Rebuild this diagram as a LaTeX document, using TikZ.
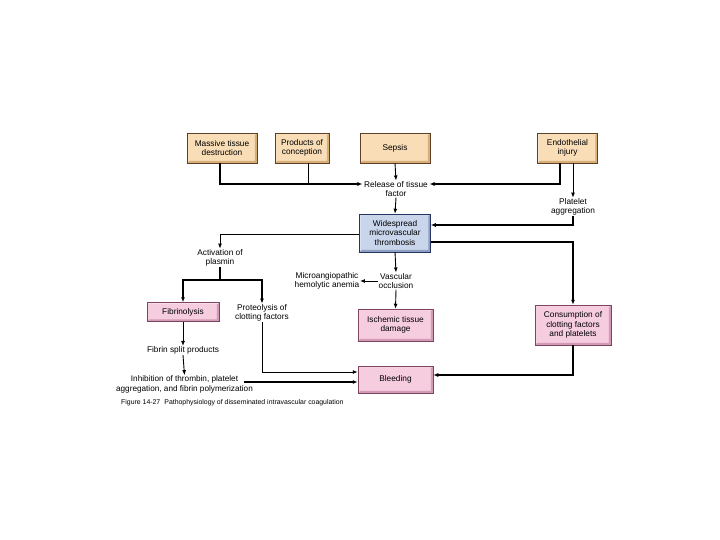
\documentclass[tikz,border=0pt]{standalone}
\usepackage{fontspec}
\setmainfont{Liberation Sans}
\usetikzlibrary{arrows.meta}
\definecolor{tanfill}{HTML}{F8DDB6}
\definecolor{tanbev}{HTML}{D8AE78}
\definecolor{tanline}{HTML}{5E4026}
\definecolor{bluefill}{HTML}{C9D5EB}
\definecolor{bluebev}{HTML}{8E9FC6}
\definecolor{blueline}{HTML}{27345E}
\definecolor{pinkfill}{HTML}{F6CCDF}
\definecolor{pinkbev}{HTML}{D29AB4}
\definecolor{pinkline}{HTML}{7E4460}
\tikzset{
  txt/.style={font=\fontsize{8.3}{9.6}\selectfont, align=center, inner sep=0.5pt},
  bevelbox/.style n args={3}{txt, draw=#3, line width=0.5pt, fill=#1,
    path picture={\fill[#2] (path picture bounding box.south west) -- (path picture bounding box.south east)
      -- (path picture bounding box.north east) -- ([xshift=-2.2pt,yshift=-2.2pt]path picture bounding box.north east)
      -- ([xshift=-2.2pt,yshift=2.2pt]path picture bounding box.south east) -- ([xshift=2.2pt,yshift=2.2pt]path picture bounding box.south west) -- cycle;
      \fill[white,opacity=0.5] (path picture bounding box.south west) -- (path picture bounding box.north west)
      -- (path picture bounding box.north east) -- ([xshift=-1.2pt,yshift=-1.2pt]path picture bounding box.north east)
      -- ([xshift=1.2pt,yshift=-1.2pt]path picture bounding box.north west) -- ([xshift=1.2pt,yshift=1.2pt]path picture bounding box.south west) -- cycle;}},
  tanbox/.style={bevelbox={tanfill}{tanbev}{tanline}},
  bluebox/.style={bevelbox={bluefill}{bluebev}{blueline}},
  pinkbox/.style={bevelbox={pinkfill}{pinkbev}{pinkline}},
  arr/.style={-{Latex[length=5pt,width=4pt]}},
  thickln/.style={line width=1.8pt},
  thinln/.style={line width=0.9pt},
}
\begin{document}
\begin{tikzpicture}[x=1pt,y=-1pt]
\useasboundingbox (0,0) rectangle (720,540);
% boxes
\node[tanbox, minimum width=70pt, minimum height=30pt] (mtd) at (222,148) {Massive tissue\\destruction};
\node[tanbox, minimum width=54pt, minimum height=30pt] (poc) at (302,148) {Products of\\conception};
\node[tanbox, minimum width=70pt, minimum height=30pt] (sep) at (395,148) {Sepsis};
\node[tanbox, minimum width=60pt, minimum height=30pt] (endo) at (567.5,148) {Endothelial\\injury};
\node[bluebox, minimum width=71pt, minimum height=38pt] (ws) at (395,233) {Widespread\\microvascular\\thrombosis};
\node[pinkbox, minimum width=72pt, minimum height=19pt] (fib) at (183,312) {Fibrinolysis};
\node[pinkbox, minimum width=75pt, minimum height=32pt] (isch) at (395.5,325) {Ischemic tissue\\damage};
\node[pinkbox, minimum width=76pt, minimum height=40pt] (cons) at (573,325) {Consumption of\\clotting factors\\and platelets};
\node[pinkbox, minimum width=75pt, minimum height=27pt] (bl) at (395.5,379.5) {Bleeding};
% text nodes
\node[txt] (rel) at (396,189) {Release of tissue\\factor};
\node[txt] (plt) at (573,207) {Platelet\\aggregation};
\node[txt] (act) at (220,258) {Activation of\\plasmin};
\node[txt] (vo) at (396,281) {Vascular\\occlusion};
\node[txt] (mic) at (327,281) {Microangiopathic\\hemolytic anemia};
\node[txt] (prot) at (262,313) {Proteolysis of\\clotting factors};
\node[txt] (fsp) at (183,350.5) {Fibrin split products};
\node[txt, font=\fontsize{8.2}{9.6}\selectfont] (inh) at (184.5,384.5) {Inhibition of thrombin, platelet\\aggregation, and fibrin polymerization};
\node[font=\fontsize{6.9}{8}\selectfont, anchor=west, inner sep=0] (cap) at (121,403) {Figure 14-27\hspace{0.6em}Pathophysiology of disseminated intravascular coagulation};
% coordinates
\coordinate (relL) at ([yshift=5pt,xshift=-1pt]rel.west);
\coordinate (relR) at ([yshift=5pt,xshift=1pt]rel.east);
\coordinate (br) at (220,280);
\coordinate (inhR) at (244,382);
% connectors
\draw[thickln,arr] ([xshift=-2pt]mtd.south) |- (relL);
\draw[thinln] ([xshift=6pt]poc.south) -- ([xshift=6pt]poc.south |- relL);
\draw[thinln,arr] (sep.south) -- (rel.north);
\draw[thickln,arr] ([xshift=-7.5pt]endo.south) |- (relR);
\draw[thinln,arr] ([xshift=5.5pt]endo.south) -- (plt.north);
\draw[thinln,arr] (rel.south) -- (ws.north);
\draw[thickln,arr] (plt.south) |- ([yshift=8pt]ws.east);
\draw[thickln,arr] ([yshift=-9pt]ws.east) -| (cons.north);
\draw[thinln,arr] ([yshift=-1pt]ws.west) -| (act.north);
\draw[thickln] (act.south) -- (br);
\draw[thickln,arr] (br) -| (fib.north);
\draw[thickln,arr] (br) -| (prot.north);
\draw[thinln,arr] (ws.south) -- (vo.north);
\draw[thinln,arr] (vo.south) -- (isch.north);
\draw[thinln,arr] (vo.west) -- (mic.east);
\draw[thinln,arr] (fib.south) -- (fsp.north);
\draw[thinln,arr] (fsp.south) -- (inh.north);
\draw[thinln,arr] (prot.south) |- ([yshift=7.5pt]bl.west);
\draw[thickln,arr] (inhR) -- (bl.west |- inhR);
\draw[thickln,arr] (cons.south) |- ([yshift=4.5pt]bl.east);
\end{tikzpicture}
\end{document}
